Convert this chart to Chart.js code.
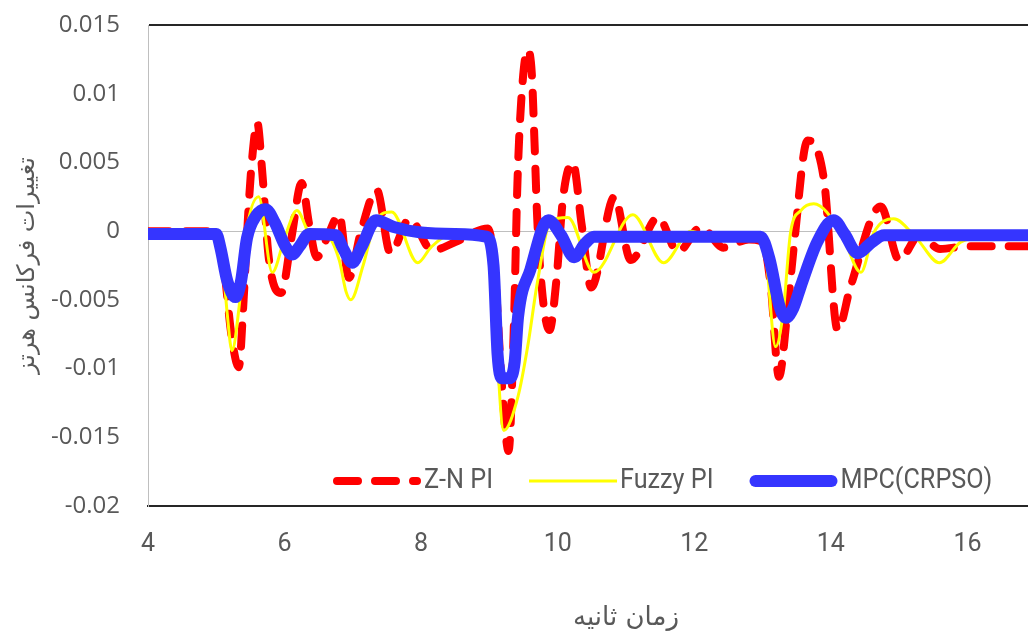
<!DOCTYPE html>
<html>
<head>
<meta charset="utf-8">
<script src="https://cdn.jsdelivr.net/npm/chart.js@4.4.1/dist/chart.umd.min.js"></script>
<style>
  html, body { margin: 0; padding: 0; background: #fff; overflow: hidden; }
  #wrap { width: 1104px; height: 640px; }
</style>
</head>
<body>
<div id="wrap"><canvas id="freqChart" width="1104" height="640"></canvas></div>
<script>
// time axis (s) and frequency deviation (Hz)
const znTime = [4, 5.0, 5.12, 5.22, 5.33, 5.4, 5.47, 5.52, 5.6, 5.67, 5.77, 5.95, 6.1, 6.25, 6.36, 6.47, 6.62, 6.8, 6.94, 7.12, 7.35, 7.55, 7.83, 8.16, 8.5, 8.98, 9.08, 9.18, 9.28, 9.36, 9.41, 9.47, 9.56, 9.62, 9.66, 9.7, 9.78, 9.88, 9.98, 10.08, 10.22, 10.35, 10.49, 10.83, 11.07, 11.47, 11.76, 12.1, 12.43, 12.8, 13.0, 13.12, 13.24, 13.36, 13.46, 13.66, 13.9, 14.1, 14.29, 14.73, 15.0, 15.3, 15.6, 16.0, 17.5];
const znValues = [0, 0, -0.003, -0.0075, -0.0099, -0.005, 0.0015, 0.005, 0.0079, 0.0045, -0.002, -0.0045, -0.0005, 0.0035, 0.0005, -0.0019, -0.0005, 0.0012, -0.0034, 0.0, 0.003, -0.0016, 0.0009, -0.0014, -0.0008, 0.0002, -0.003, -0.011, -0.016, -0.0065, 0.0035, 0.0098, 0.0132, 0.0115, 0.0065, 0.0009, -0.0048, -0.0072, -0.0036, 0.0025, 0.005, 0.0005, -0.0041, 0.0025, -0.0021, 0.001, -0.0015, 0.0003, -0.0012, -0.0006, -0.0008, -0.004, -0.0106, -0.006, -0.001, 0.0066, 0.0037, -0.0072, -0.004, 0.0018, -0.0021, -0.0003, -0.0013, -0.0011, -0.0011];

const fuzzyTime = [4, 5.0, 5.08, 5.16, 5.23, 5.33, 5.43, 5.62, 5.82, 6.0, 6.18, 6.4, 6.6, 6.8, 6.9, 6.97, 7.15, 7.34, 7.57, 7.95, 8.14, 8.4, 8.95, 9.05, 9.21, 9.42, 9.56, 9.7, 9.9, 10.15, 10.53, 11.1, 11.55, 11.95, 12.3, 12.95, 13.05, 13.19, 13.3, 13.41, 13.56, 13.75, 14.15, 14.44, 14.63, 14.92, 15.25, 15.59, 15.9, 16.2, 17.5];
const fuzzyValues = [0, 0, -0.0015, -0.006, -0.0087, -0.0057, -0.0004, 0.0025, -0.003, -0.0005, 0.0015, -0.0004, -0.0003, -0.0021, -0.0044, -0.005, -0.0025, 0.0008, 0.0014, -0.0023, -0.0012, -0.0003, -0.0002, -0.004, -0.0145, -0.012, -0.0084, -0.0038, 0.0008, 0.001, -0.003, 0.0012, -0.0023, 0.0, -0.0005, -0.0004, -0.002, -0.0084, -0.006, -0.0001, 0.0015, 0.002, -0.0001, -0.003, -0.0001, 0.0009, -0.0005, -0.0023, -0.0008, -0.0005, -0.0005];

const mpcTime = [4, 5.0, 5.06, 5.16, 5.28, 5.36, 5.45, 5.58, 5.72, 5.86, 6.0, 6.11, 6.22, 6.36, 6.75, 6.86, 6.99, 7.12, 7.34, 7.6, 8.0, 8.5, 8.95, 9.06, 9.12, 9.18, 9.3, 9.37, 9.42, 9.6, 9.86, 10.05, 10.24, 10.4, 10.53, 11.5, 12.5, 12.97, 13.1, 13.25, 13.34, 13.45, 13.56, 13.8, 14.04, 14.2, 14.39, 14.6, 14.78, 15.5, 16.5, 17.5];
const mpcValues = [-0.0002, -0.0002, -0.0012, -0.0036, -0.0048, -0.0037, -0.0005, 0.0011, 0.0016, 0.0006, -0.001, -0.0017, -0.0011, -0.0002, -0.0003, -0.0013, -0.0023, -0.0012, 0.0008, 0.0003, -0.0001, -0.0002, -0.0004, -0.0025, -0.009, -0.0107, -0.0107, -0.0095, -0.0062, -0.0028, 0.0008, -0.0003, -0.0019, -0.0009, -0.0004, -0.0004, -0.0004, -0.0004, -0.002, -0.0055, -0.0063, -0.0056, -0.004, -0.0008, 0.0008, -0.0002, -0.0016, -0.0008, -0.0003, -0.0003, -0.0003, -0.0003];

const seriesLabels = ['Z-N PI', 'Fuzzy PI', 'MPC(CRPSO)'];
const xTicks = [4, 6, 8, 10, 12, 14, 16];
const yTitle = 'تغییرات فرکانس هرتز';
const xTitle = 'زمان ثانیه';

const TEXT = '#595959';

function toPoints(ts, vs) {
  return ts.map((t, i) => ({ x: t, y: vs[i] }));
}

function fmt(v) {
  const r = Math.round(v * 1000) / 1000;
  return r === 0 ? '0' : String(r);
}

// legend drawn inside the plot, just above the bottom axis
const insideLegend = {
  id: 'insideLegend',
  afterDatasetsDraw(chart) {
    const ctx = chart.ctx;
    const y = 481;
    const sampleLen = 88;
    const squeeze = 0.9; // the original uses a narrow face
    let x = 333;
    ctx.save();
    ctx.font = '28px Roboto, sans-serif';
    ctx.textBaseline = 'middle';
    chart.data.datasets.forEach(ds => {
      const w = ds.borderWidth;
      const round = ds.borderCapStyle === 'round';
      ctx.beginPath();
      ctx.strokeStyle = ds.borderColor;
      ctx.lineWidth = w;
      ctx.lineCap = round ? 'round' : 'butt';
      ctx.setLineDash(ds.borderDash || []);
      ctx.moveTo(x + (round ? w / 2 : 0), y);
      ctx.lineTo(x + sampleLen - (round ? w / 2 : 0), y);
      ctx.stroke();
      ctx.setLineDash([]);

      const tx = x + sampleLen + 3;
      ctx.save();
      ctx.translate(tx, y);
      ctx.scale(squeeze, 1);
      ctx.fillStyle = TEXT;
      ctx.textAlign = 'left';
      ctx.fillText(ds.label, 0, 0);
      ctx.restore();
      x = tx + ctx.measureText(ds.label).width * squeeze + 36;
    });
    ctx.restore();
  }
};

new Chart(document.getElementById('freqChart'), {
  type: 'line',
  data: {
    datasets: [
      {
        label: seriesLabels[0],
        data: toPoints(znTime, znValues),
        borderColor: '#ff0000',
        borderWidth: 8,
        borderDash: [21, 17],
        borderCapStyle: 'round',
        order: 2,
      },
      {
        label: seriesLabels[1],
        data: toPoints(fuzzyTime, fuzzyValues),
        borderColor: '#ffff00',
        borderWidth: 3,
        order: 1,
      },
      {
        label: seriesLabels[2],
        data: toPoints(mpcTime, mpcValues),
        borderColor: '#3535ff',
        borderWidth: 12,
        borderCapStyle: 'round',
        borderJoinStyle: 'round',
        order: 0,
      },
    ],
  },
  options: {
    responsive: false,
    animation: false,
    elements: { point: { radius: 0 }, line: { cubicInterpolationMode: 'monotone' } },
    layout: { padding: { top: 25, right: 0, bottom: 0, left: 0 } },
    plugins: { legend: { display: false }, tooltip: { enabled: false } },
    scales: {
      x: {
        type: 'linear',
        min: 4,
        max: 18,
        afterFit: (scale) => { scale.height = 134; scale.paddingRight = 0; },
        afterBuildTicks: (scale) => { scale.ticks = xTicks.map(v => ({ value: v })); },
        ticks: {
          padding: 24,
          color: TEXT,
          font: { family: 'Roboto, sans-serif', size: 25 },
          maxRotation: 0,
          callback: (v) => String(v),
        },
        grid: { drawOnChartArea: false, drawTicks: false },
        border: { display: true, color: '#262626', width: 2 },
        title: {
          display: true,
          text: xTitle,
          color: TEXT,
          font: { family: "'DejaVu Sans', sans-serif", size: 26 },
          padding: { top: 0, bottom: 6 },
        },
      },
      y: {
        min: -0.02,
        max: 0.015,
        afterFit: (scale) => { scale.width = 148; scale.paddingTop = 0; scale.paddingBottom = 0; },
        ticks: {
          stepSize: 0.005,
          padding: 28,
          color: TEXT,
          font: { family: "'Open Sans', sans-serif", size: 24 },
          callback: (v) => fmt(v),
        },
        grid: {
          drawTicks: false,
          color: (c) => {
            const v = c.tick ? Math.round(c.tick.value * 1000) : null;
            if (v === 0) return '#bfbfbf';
            if (v === 15) return '#262626';
            return 'rgba(0,0,0,0)';
          },
          lineWidth: (c) => (c.tick && Math.round(c.tick.value * 1000) === 15 ? 2 : 1),
        },
        border: { display: true, color: '#bfbfbf', width: 1 },
        title: {
          display: true,
          text: yTitle,
          color: TEXT,
          font: { family: "'DejaVu Sans', sans-serif", size: 24 },
          padding: { top: 13, bottom: 0 },
        },
      },
    },
  },
  plugins: [insideLegend],
});
</script>
</body>
</html>
